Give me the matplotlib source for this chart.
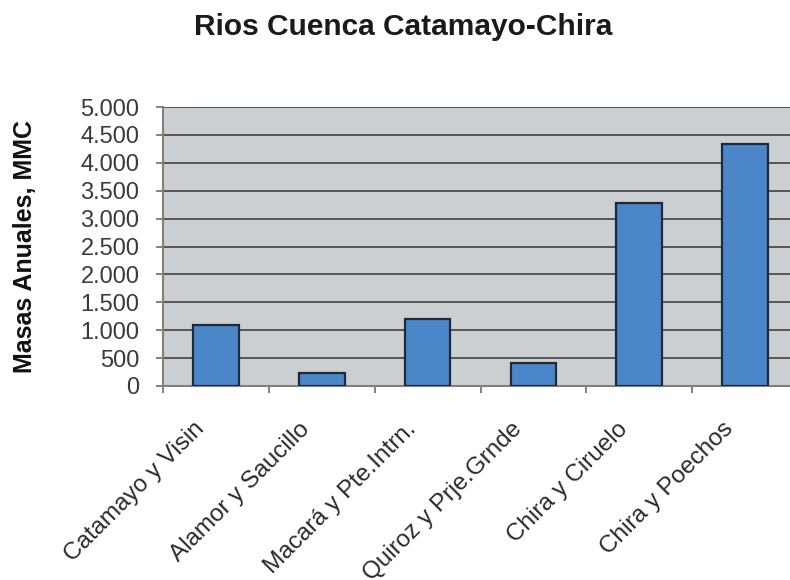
#!/usr/bin/env python
# coding: utf-8

""" Rios Cuenca Catamayo-Chira - masas anuales """

import numpy as np
import matplotlib
matplotlib.use('Agg')
import matplotlib.pyplot as plt
import matplotlib.transforms as mtransforms
from matplotlib.ticker import FuncFormatter, MultipleLocator

plt.rcParams['font.family'] = ['Liberation Sans', 'DejaVu Sans']

""" Data """
rios = ['Catamayo y Visin', 'Alamor y Saucillo', 'Macará y Pte.Intrn.',
        'Quiroz y Prje.Grnde', 'Chira y Ciruelo', 'Chira y Poechos']
masas = [1100, 230, 1200, 410, 3280, 4330]
y_max = 5000
y_step = 500


def miles(v, pos):
    return f'{int(v):,}'.replace(',', '.')


fig = plt.figure(figsize=(7.9, 5.8), dpi=100)
ax = fig.add_axes([163 / 790, 1 - 386 / 580, 635 / 790, 279 / 580])
ax.set_facecolor('#cbcfd2')

x = np.arange(len(rios))
ax.bar(x, masas, width=0.43, color='#4a86c8', edgecolor='#1c2a3e',
       linewidth=1.6, zorder=3)

ax.set_xlim(-0.5, len(rios) - 0.5)
ax.set_ylim(0, y_max)
ax.yaxis.set_major_locator(MultipleLocator(y_step))
ax.yaxis.set_major_formatter(FuncFormatter(miles))
ax.grid(axis='y', color='#555555', linewidth=1.4, zorder=1)

# category labels, drawn as text under each category
ax.set_xticks([])
lbl_trans = (mtransforms.blended_transform_factory(ax.transData, ax.transAxes)
             + mtransforms.ScaledTranslation(-0.23, -0.32, fig.dpi_scale_trans))
for i, rio in zip(x, rios):
    ax.text(i, 0, rio, transform=lbl_trans, rotation=45, ha='right',
            va='top', rotation_mode='anchor', fontsize=17.5,
            color='#2a2a2a', clip_on=False)

# tick marks between categories
ax.set_xticks(np.arange(-0.5, len(rios), 1), minor=True)
ax.tick_params(axis='x', which='minor', length=5, width=1.3, color='#777777')
ax.tick_params(axis='y', length=5, width=1.3, color='#777777',
               labelsize=17, labelcolor='#3a3a3a', pad=12)

for side in ['top', 'right']:
    ax.spines[side].set_visible(False)
for side in ['left', 'bottom']:
    ax.spines[side].set_color('#808080')
    ax.spines[side].set_linewidth(1.5)

fig.text(0.51, 1 - 35 / 580, 'Rios Cuenca Catamayo-Chira', ha='center',
         va='baseline', fontsize=21.5, fontweight='bold', color='#1a1a1a')
fig.text(25 / 790, 1 - 246 / 580, 'Masas Anuales, MMC', rotation=90,
         ha='center', va='center', fontsize=18, fontweight='bold',
         color='#111111')

fig.savefig('out.png', dpi=100)
